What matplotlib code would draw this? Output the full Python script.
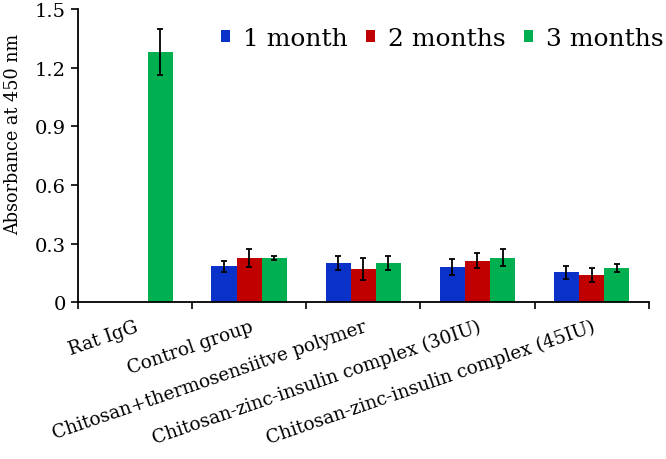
import numpy as np
import matplotlib
matplotlib.use('Agg')
import matplotlib.pyplot as plt

plt.rcParams['font.family'] = ['DejaVu Serif']

groups = ['Rat IgG', 'Control group', 'Chitosan+thermosensiitve polymer',
          'Chitosan-zinc-insulin complex (30IU)', 'Chitosan-zinc-insulin complex (45IU)']
series = ['1 month', '2 months', '3 months']
month1 = [np.nan, 0.184, 0.200, 0.181, 0.152]
month2 = [np.nan, 0.225, 0.169, 0.213, 0.138]
month3 = [1.280, 0.225, 0.200, 0.228, 0.176]
err1 = [np.nan, 0.028, 0.034, 0.041, 0.034]
err2 = [np.nan, 0.047, 0.055, 0.040, 0.035]
err3 = [0.116, 0.010, 0.034, 0.042, 0.021]
colors = ['#0A32C8', '#C00000', '#00B050']

fig = plt.figure(figsize=(6.66, 4.6), dpi=100)
ax = fig.add_axes([0.117, 0.341, 0.857, 0.637])

x = np.arange(len(groups))
w = 0.22
vals = [month1, month2, month3]
errs = [err1, err2, err3]
for i in range(3):
    pos = x + (i - 1) * w
    ax.bar(pos, vals[i], width=w, color=colors[i], label=series[i], zorder=2)
    ax.errorbar(pos, vals[i], yerr=errs[i], fmt='none', ecolor='black',
                elinewidth=1.3, capsize=2.5, capthick=1.3, zorder=3)

ax.set_xlim(-0.5, len(groups) - 0.5)
ax.set_ylim(0, 1.5)
ax.set_yticks([0, 0.3, 0.6, 0.9, 1.2, 1.5])
ax.set_yticklabels(['0', '0.3', '0.6', '0.9', '1.2', '1.5'], fontsize=14)
ax.set_ylabel('Absorbance at 450 nm', fontsize=12.7)
ax.yaxis.set_label_coords(-0.098, 0.577)

ax.set_xticks(x)
ax.set_xticklabels(groups, rotation=19, ha='right', rotation_mode='anchor', fontsize=13.3)
ax.tick_params(axis='x', which='major', length=0, pad=11)
ax.set_xticks(np.arange(len(groups) + 1) - 0.5, minor=True)
ax.tick_params(axis='x', which='minor', length=5, width=1.2, direction='out')
ax.tick_params(axis='y', length=5, width=1.2, direction='out')

for s in ['top', 'right']:
    ax.spines[s].set_visible(False)
for s in ['left', 'bottom']:
    ax.spines[s].set_linewidth(1.3)

ax.legend(loc='upper right', bbox_to_anchor=(1.065, 1.017), ncol=3, frameon=False,
          fontsize=18, handlelength=0.36, handleheight=0.36, handletextpad=0.52,
          columnspacing=0.72)

fig.savefig('out.png', dpi=100)
